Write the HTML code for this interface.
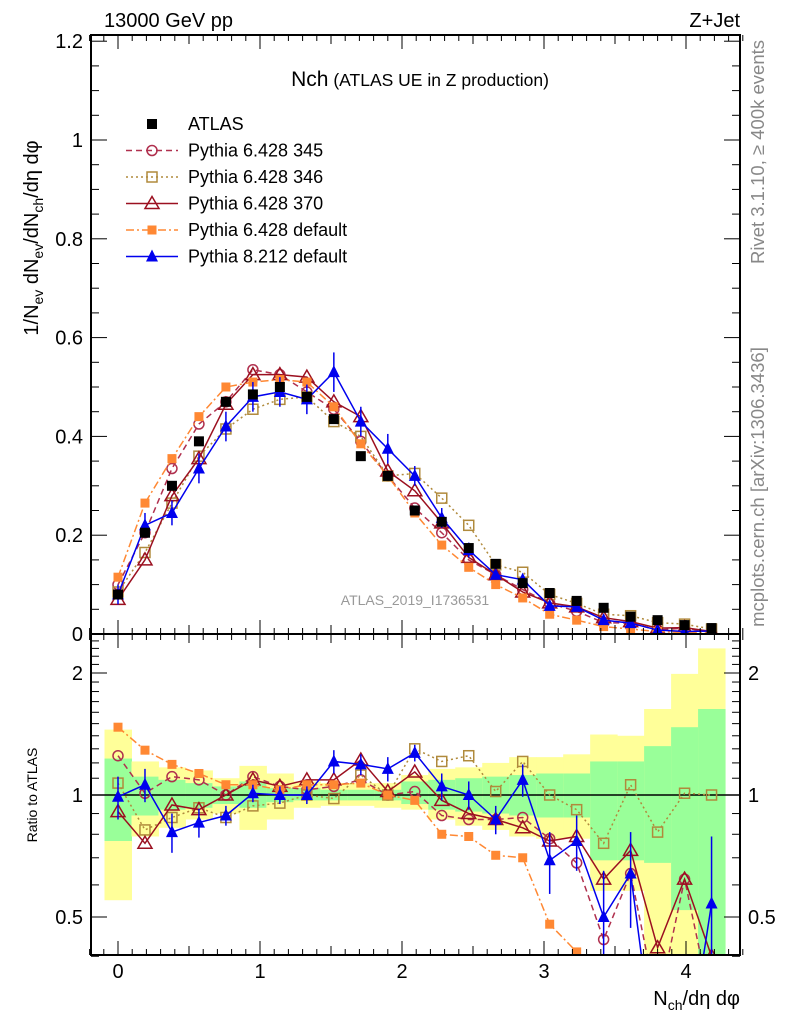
<!DOCTYPE html>
<html><head><meta charset="utf-8"><style>
html,body{margin:0;padding:0;background:#fff;width:786px;height:1024px;overflow:hidden;}
svg{display:block;font-family:"Liberation Sans",sans-serif;}
</style></head><body>
<svg id="c" width="786" height="1024" viewBox="0 0 786 1024">
<defs>
<clipPath id="cm"><rect x="91" y="35" width="649" height="599"/></clipPath>
<clipPath id="cr"><rect x="91" y="634" width="649" height="321"/></clipPath>
</defs>
<g id="bands" clip-path="url(#cr)"></g>
<g id="mainMarks" clip-path="url(#cm)"></g>
<g id="ratioMarks" clip-path="url(#cr)"></g>
<g id="axes"></g>
<text x="104" y="27" font-size="20">13000 GeV pp</text>
<text x="740" y="27" font-size="20" text-anchor="end">Z+Jet</text>
<text x="420" y="86" text-anchor="middle"><tspan font-size="21">Nch</tspan><tspan font-size="17.5"> (ATLAS UE in Z production)</tspan></text>
<text x="415" y="605" font-size="14" fill="#999" text-anchor="middle">ATLAS_2019_I1736531</text>
<text transform="translate(764,152) rotate(-90)" font-size="18.5" fill="#888" text-anchor="middle">Rivet 3.1.10, ≥ 400k events</text>
<text transform="translate(764,487) rotate(-90)" font-size="18.5" fill="#888" text-anchor="middle">mcplots.cern.ch [arXiv:1306.3436]</text>
<text transform="translate(38,238) rotate(-90)" font-size="20" text-anchor="middle">1/N<tspan font-size="14" dy="5">ev</tspan><tspan dy="-5"> dN</tspan><tspan font-size="14" dy="5">ev</tspan><tspan dy="-5">/dN</tspan><tspan font-size="14" dy="5">ch</tspan><tspan dy="-5">/dη dφ</tspan></text>
<text transform="translate(37,795) rotate(-90)" font-size="14" text-anchor="middle">Ratio to ATLAS</text>
<text x="740" y="1005" font-size="20" text-anchor="end">N<tspan font-size="14" dy="5">ch</tspan><tspan dy="-5">/dη dφ</tspan></text>
<g id="legend"></g>
</svg>
<script>
const xs = [0,0.19,0.38,0.57,0.76,0.95,1.14,1.33,1.52,1.71,1.9,2.09,2.28,2.47,2.66,2.85,3.04,3.23,3.42,3.61,3.8,3.99,4.18];
const atlas = [0.08,0.205,0.30,0.39,0.47,0.485,0.50,0.48,0.435,0.36,0.32,0.25,0.227,0.174,0.142,0.103,0.083,0.067,0.053,0.035,0.028,0.018,0.012];
const p345 = [0.10,0.205,0.335,0.425,0.47,0.535,0.525,0.49,0.455,0.39,0.32,0.255,0.205,0.15,0.12,0.09,0.062,0.046,0.023,0.022,0.008,0.012,0.003];
const p346 = [0.085,0.165,0.265,0.36,0.415,0.455,0.475,0.48,0.43,0.40,0.32,0.325,0.275,0.22,0.14,0.125,0.08,0.062,0.04,0.037,0.023,0.02,0.01];
const p370 = [0.07,0.15,0.28,0.355,0.465,0.525,0.525,0.52,0.47,0.44,0.33,0.29,0.225,0.155,0.12,0.085,0.063,0.055,0.033,0.025,0.012,0.013,0.005];
const p6def = [0.115,0.265,0.355,0.44,0.50,0.51,0.515,0.51,0.46,0.385,0.32,0.245,0.18,0.135,0.10,0.073,0.04,0.028,0.015,0.01,0.005,0.003,0.002];
const p8 = [0.08,0.22,0.245,0.335,0.42,0.48,0.49,0.475,0.53,0.43,0.375,0.32,0.235,0.17,0.12,0.11,0.057,0.055,0.028,0.022,0.008,0.005,0.006];
const p8err = [0.02,0.025,0.025,0.03,0.03,0.03,0.03,0.03,0.04,0.03,0.03,0.02,0.02,0.015,0.01,0.01,0.008,0.006,0.006,0.005,0.004,0.004,0.004];
const r345 = [1.25,1.01,1.11,1.09,1.0,1.11,1.05,1.03,1.05,1.09,1.0,1.02,0.89,0.87,0.87,0.88,0.78,0.68,0.44,0.64,0.3,0.62,0.3];
const r346 = [1.07,0.82,0.88,0.93,0.88,0.94,0.955,1.0,0.98,1.12,1.0,1.30,1.21,1.25,1.02,1.21,1.0,0.92,0.76,1.06,0.81,1.01,1.0];
const r370 = [0.91,0.76,0.945,0.92,1.0,1.09,1.05,1.09,1.09,1.22,1.02,1.14,0.97,0.90,0.87,0.83,0.77,0.79,0.62,0.73,0.42,0.62,0.40];
const r6def = [1.47,1.29,1.19,1.13,1.06,1.06,1.03,1.06,1.06,1.07,1.0,0.97,0.80,0.79,0.71,0.70,0.48,0.41,0.2,0.2,0.2,0.2,0.2];
const r8 = [0.99,1.06,0.81,0.855,0.89,1.01,1.0,1.0,1.21,1.19,1.16,1.27,1.05,1.0,0.87,1.09,0.69,0.77,0.50,0.64,0.2,0.2,0.54];
const r8err = [0.12,0.1,0.09,0.07,0.05,0.05,0.05,0.05,0.08,0.07,0.08,0.06,0.08,0.08,0.07,0.1,0.12,0.12,0.15,0.17,0.2,0.2,0.25];
const yelHi = [1.45,1.21,1.17,1.15,1.10,1.18,1.13,1.08,1.07,1.07,1.07,1.12,1.16,1.17,1.20,1.24,1.24,1.26,1.41,1.40,1.63,1.99,2.3];
const yelLo = [0.55,0.79,0.83,0.87,0.90,0.82,0.87,0.93,0.94,0.94,0.93,0.92,0.87,0.84,0.82,0.79,0.78,0.78,0.58,0.58,0.35,0.35,0.35];
const grnHi = [1.23,1.11,1.09,1.07,1.05,1.08,1.04,1.04,1.03,1.03,1.03,1.08,1.09,1.10,1.11,1.12,1.13,1.13,1.21,1.21,1.32,1.47,1.63];
const grnLo = [0.77,0.89,0.92,0.93,0.95,0.93,0.96,0.97,0.97,0.97,0.97,0.95,0.92,0.91,0.90,0.89,0.88,0.88,0.69,0.69,0.68,0.52,0.35];
const mainTicks = ["0","0.2","0.4","0.6","0.8","1","1.2"];
const xTicks = ["0","1","2","3","4"];
const ratioTicks = ["0.5","1","2"];

const NS="http://www.w3.org/2000/svg";
const L=91,R=740,T=35,MB=634,RB=955;
const X=v=>118+v*142;
const Y=v=>634-v*494;
const RY=v=>795-122*Math.log2(v);
const binW=0.19;
function mk(tag,attrs,parent){const e=document.createElementNS(NS,tag);for(const k in attrs)e.setAttribute(k,attrs[k]);parent.appendChild(e);return e;}
const gB=document.getElementById('bands'),gM=document.getElementById('mainMarks'),gR=document.getElementById('ratioMarks'),gA=document.getElementById('axes'),gL=document.getElementById('legend');

xs.forEach((x,i)=>{
  const a=mk('rect',{x:X(x-binW/2),y:RY(yelHi[i]),width:binW*142+0.5,height:RY(yelLo[i])-RY(yelHi[i]),fill:'#ffff99'},gB);
  
  
  const b=mk('rect',{x:X(x-binW/2),y:RY(grnHi[i]),width:binW*142+0.5,height:RY(grnLo[i])-RY(grnHi[i]),fill:'#99ff99'},gB);
  
  
});
const ref=mk('line',{x1:L,x2:R,y1:RY(1),y2:RY(1),stroke:'#000','stroke-width':1.5},gR);



function marker(g,type,color,cx,cy){
  let e;
  if(type==='sqf') e=mk('rect',{x:cx-5,y:cy-5,width:10,height:10,fill:color},g);
  else if(type==='sqs') e=mk('rect',{x:cx-4.5,y:cy-4.5,width:9,height:9,fill:color},g);
  else if(type==='sqo') e=mk('rect',{x:cx-5,y:cy-5,width:10,height:10,fill:'none',stroke:color,'stroke-width':1.5},g);
  else if(type==='circ') e=mk('circle',{cx:cx,cy:cy,r:5,fill:'none',stroke:color,'stroke-width':1.5},g);
  else if(type==='trio') e=mk('polygon',{points:`${cx},${cy-7} ${cx-7},${cy+5} ${cx+7},${cy+5}`,fill:'none',stroke:color,'stroke-width':1.5},g);
  else e=mk('polygon',{points:`${cx},${cy-7} ${cx-6},${cy+5} ${cx+6},${cy+5}`,fill:color},g);
  return e;
}
const series=[
 {name:'pythia-6-428-345',vals:p345,rat:r345,color:'#b0304e',dash:'6,4',m:'circ'},
 {name:'pythia-6-428-346',vals:p346,rat:r346,color:'#b08a3c',dash:'2,3',m:'sqo'},
 {name:'pythia-6-428-370',vals:p370,rat:r370,color:'#9b1020',dash:'',m:'trio'},
 {name:'pythia-6-428-default',vals:p6def,rat:r6def,color:'#ff8833',dash:'8,3,2,3',m:'sqs'},
 {name:'pythia-8-212-default',vals:p8,rat:r8,color:'#0000ee',dash:'',m:'trif',err:p8err,rerr:r8err}
];
series.forEach(s=>{
  [[gM,s.vals,Y,s.err],[gR,s.rat,RY,s.rerr]].forEach(([g,vals,fy,err],k)=>{
    const p=mk('polyline',{points:xs.map((x,i)=>X(x)+','+fy(vals[i])).join(' '),fill:'none',stroke:s.color,'stroke-width':1.5,'stroke-dasharray':s.dash},g);
    
    
    xs.forEach((x,i)=>{
      if(err){
        const lo=k?Math.max(vals[i]-err[i],0.05):vals[i]-err[i];
        const eb=mk('line',{x1:X(x),x2:X(x),y1:fy(vals[i]+err[i]),y2:fy(lo),stroke:s.color,'stroke-width':1.5},g);
        
        
      }
      const m=marker(g,s.m,s.color,X(x),fy(vals[i]));
      
      
    });
  });
});
xs.forEach((x,i)=>{
  const m=marker(gM,'sqf','#000',X(x),Y(atlas[i]));
  
  
});

[[T,MB],[MB,RB]].forEach(([t,b],k)=>{
  const f=mk('rect',{x:L,y:t,width:R-L,height:b-t,fill:'none',stroke:'#000','stroke-width':2},gA);
  
  
});
for(let v=-0.2;v<=4.45;v+=0.1){
  const vv=Math.round(v*10)/10; const maj=Math.abs(vv-Math.round(vv))<1e-6;
  const len=maj?14:(Math.abs(vv*2-Math.round(vv*2))<1e-6?9:6);
  [[MB,-1],[T,1],[RB,-1],[MB,1]].forEach(([y0,d])=>mk('line',{x1:X(vv),x2:X(vv),y1:y0,y2:y0+d*len,stroke:'#000','stroke-width':1},gA));
}
xTicks.forEach(t=>{
  const e=mk('text',{x:X(parseFloat(t)),y:978,'font-size':20,'text-anchor':'middle'},gA);e.textContent=t;
  
  
});
for(let v=0;v<=1.2001;v+=0.05){
  const vv=Math.round(v*100)/100; const maj=Math.abs(vv*5-Math.round(vv*5))<1e-6;
  const len=maj?16:8;
  mk('line',{x1:L,x2:L+len,y1:Y(vv),y2:Y(vv),stroke:'#000'},gA);
  mk('line',{x1:R,x2:R-len,y1:Y(vv),y2:Y(vv),stroke:'#000'},gA);
}
mainTicks.forEach(t=>{
  const e=mk('text',{x:83,y:Y(parseFloat(t))+7,'font-size':20,'text-anchor':'end'},gA);e.textContent=t;
  
  
});
const rMinor=[0.4,0.6,0.7,0.8,0.9,1.1,1.2,1.3,1.4,1.5,1.6,1.7,1.8,1.9,2.1,2.2,2.3,2.4];
rMinor.forEach(v=>{mk('line',{x1:L,x2:L+8,y1:RY(v),y2:RY(v),stroke:'#000'},gA);mk('line',{x1:R,x2:R-8,y1:RY(v),y2:RY(v),stroke:'#000'},gA);});
ratioTicks.forEach(t=>{
  const v=parseFloat(t);
  mk('line',{x1:L,x2:L+16,y1:RY(v),y2:RY(v),stroke:'#000'},gA);
  mk('line',{x1:R,x2:R-16,y1:RY(v),y2:RY(v),stroke:'#000'},gA);
  const e=mk('text',{x:83,y:RY(v)+7,'font-size':20,'text-anchor':'end'},gA);e.textContent=t;
  
  
  const e2=mk('text',{x:748,y:RY(v)+7,'font-size':20},gA);e2.textContent=t;
  
  
});
const leg=[['ATLAS','#000','','sqf'],['Pythia 6.428 345','#b0304e','6,4','circ'],['Pythia 6.428 346','#b08a3c','2,3','sqo'],['Pythia 6.428 370','#9b1020','','trio'],['Pythia 6.428 default','#ff8833','8,3,2,3','sqs'],['Pythia 8.212 default','#0000ee','','trif']];
leg.forEach((l,i)=>{
  const y=124+i*26.5;
  const g=mk('g',{},gL);
  
  
  if(i>0) mk('line',{x1:126,x2:178,y1:y,y2:y,stroke:l[1],'stroke-width':1.5,'stroke-dasharray':l[2]},g);
  marker(g,l[3],l[1],152,y);
  const t=mk('text',{x:188,y:y+6,'font-size':18},g);t.textContent=l[0];
});
</script>
</body></html>
